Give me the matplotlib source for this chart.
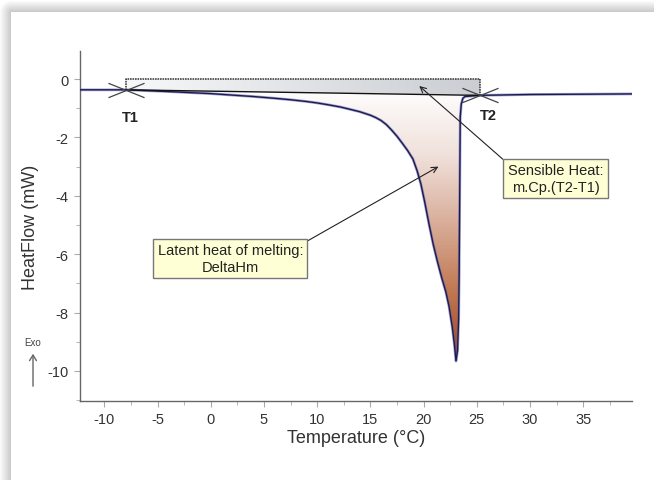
import numpy as np
import matplotlib
matplotlib.use("Agg")
import matplotlib.pyplot as plt
from matplotlib.colors import LinearSegmentedColormap
from matplotlib.path import Path
from matplotlib.patches import Polygon, FancyArrowPatch

plt.rcParams['font.family'] = ['Liberation Sans', 'DejaVu Sans']
plt.rcParams['axes.unicode_minus'] = False

# DSC curve
temperature = [-12.3, -8.0, -4.0, 0.0, 2.0, 4.0, 6.0, 7.5, 9.0, 10.0, 11.0, 12.2, 13.0, 14.0, 15.0,
               15.5, 16.0, 16.5, 17.0, 17.5, 18.0, 18.5, 19.0, 19.4, 19.75, 20.1, 20.5,
               20.9, 21.3, 21.7, 22.1, 22.4, 22.7, 22.9, 23.05, 23.2, 23.3,
               23.35, 23.4, 23.45, 23.55, 23.7, 23.9, 25.3, 30.0, 35.0, 39.6]
heatflow = [-0.37, -0.37, -0.43, -0.5, -0.55, -0.6, -0.66, -0.71, -0.77, -0.82, -0.88, -0.96, -1.03, -1.12, -1.24,
            -1.32, -1.42, -1.56, -1.75, -1.96, -2.2, -2.45, -2.74, -3.15, -3.6, -4.2, -4.95,
            -5.65, -6.25, -6.8, -7.3, -7.8, -8.5, -9.1, -9.66, -9.3, -8.2,
            -6.7, -4.0, -1.3, -0.85, -0.66, -0.6, -0.56, -0.53, -0.52, -0.51]

t1 = (-8.0, -0.37)
t2 = (25.3, -0.56)
rect_top = 0.0

xticks = [-10, -5, 0, 5, 10, 15, 20, 25, 30, 35]
yticks = [0, -2, -4, -6, -8, -10]

fig = plt.figure(figsize=(6.54, 4.81), dpi=100)

# card background with soft shadow on top/left
bg = fig.add_axes([0, 0, 1, 1])
H, W = 481, 654
yy, xx = np.mgrid[0:H, 0:W]
cx, cy = 11, 13
dx = np.clip(cx - xx, 0, None)
dy = np.clip(cy - yy, 0, None)
d = np.sqrt(dx ** 2 + dy ** 2)
shade = np.where(d > 0, 1 - 0.22 * np.clip(1 - d / 12, 0, 1), 1.0)
bg.imshow(np.dstack([shade] * 3), extent=[0, W, H, 0], aspect='auto')
bg.set_xlim(0, W)
bg.set_ylim(H, 0)
bg.axis('off')

ax = fig.add_axes([0.1223, 0.1642, 0.8441, 0.7277])
ax.patch.set_alpha(0)

x = np.array(temperature)
y = np.array(heatflow)

# area between curve and baseline (latent heat), vertical gradient
mask = (x >= t1[0]) & (x <= t2[0])
xs = x[mask]
ys = y[mask]
base = np.interp(xs, [t1[0], t2[0]], [t1[1], t2[1]])
poly = np.vstack([np.column_stack([xs, ys]), np.column_stack([xs[::-1], base[::-1]])])
clip = Polygon(poly, closed=True, facecolor='none', edgecolor='none')
ax.add_patch(clip)
cmap = LinearSegmentedColormap.from_list('melt', ['#ffffff', '#f0e0da', '#d8ac98', '#bf774f', '#a2421a'])
grad = np.linspace(0, 1, 256).reshape(-1, 1)
im = ax.imshow(grad, cmap=cmap, extent=[t1[0], t2[0], -9.7, -0.3], origin='upper',
               aspect='auto', zorder=1)
im.set_clip_path(clip)

# sensible heat rectangle, horizontal gradient
rect = Polygon([[t1[0], t1[1]], [t1[0], rect_top], [t2[0], rect_top], [t2[0], t2[1]]],
               closed=True, facecolor='none', edgecolor='none')
ax.add_patch(rect)
cmap2 = LinearSegmentedColormap.from_list('sens', ['#f7f8f9', '#cacdd2'])
im2 = ax.imshow(np.linspace(0, 1, 256).reshape(1, -1), cmap=cmap2,
                extent=[t1[0], t2[0], t2[1], rect_top], aspect='auto', zorder=1)
im2.set_clip_path(rect)
ax.plot([t1[0], t1[0], t2[0], t2[0]], [t1[1], rect_top, rect_top, t2[1]],
        color='#444444', lw=1.2, ls=(0, (1, 0.5)), zorder=2)

# curve and baseline
ax.plot(x, y, color='#5a5ab4', lw=2.0, alpha=0.55, zorder=3)
ax.plot(x, y, color='#1c1c4c', lw=1.0, zorder=4)
ax.plot([t1[0], t2[0]], [t1[1], t2[1]], color='#111111', lw=1.0, zorder=4)

# T1 / T2 markers
xmark = Path([(-1, -0.4), (1, 0.4), (-1, 0.4), (1, -0.4)],
             [Path.MOVETO, Path.LINETO, Path.MOVETO, Path.LINETO])
ax.plot([t1[0], t2[0]], [t1[1], t2[1]], ls='none', marker=xmark, markersize=26,
        markeredgecolor='#444444', markeredgewidth=0.9, zorder=5)
ax.text(-7.6, -1.3, 'T1', fontsize=10.5, fontweight='bold', ha='center', va='center', color='#222222')
ax.text(26.1, -1.23, 'T2', fontsize=10.5, fontweight='bold', ha='center', va='center', color='#222222')

box = dict(boxstyle='square,pad=0.3', facecolor='#ffffd6', edgecolor='#777777', lw=1.0)
ax.annotate('Sensible Heat:\nm.Cp.(T2-T1)', xy=(19.6, -0.24), xytext=(32.4, -3.41),
            ha='center', va='center', fontsize=10.5, color='#222222', bbox=box,
            arrowprops=dict(arrowstyle='->', color='#222222', lw=0.8, relpos=(0, 1),
                            shrinkA=0, shrinkB=0), zorder=6)
ax.annotate('Latent heat of melting:\nDeltaHm', xy=(21.4, -3.0), xytext=(1.83, -6.15),
            ha='center', va='center', fontsize=10.5, color='#222222', bbox=box,
            arrowprops=dict(arrowstyle='->', color='#222222', lw=0.8, relpos=(1, 1),
                            shrinkA=0, shrinkB=0), zorder=6)

ax.set_xlim(-12.3, 39.6)
ax.set_ylim(-11.03, 0.96)
ax.set_xticks(xticks)
ax.set_yticks(yticks)
ax.set_xticks(np.arange(-10, 40, 2.5), minor=True)
ax.set_yticks(np.arange(-11, 1, 1), minor=True)
ax.tick_params(which='major', length=4, color='#aaaaaa', labelsize=10.5, labelcolor='#333333', pad=4)
ax.tick_params(which='minor', length=3, color='#aaaaaa')
for s in ['top', 'right']:
    ax.spines[s].set_visible(False)
for s in ['left', 'bottom']:
    ax.spines[s].set_color('#666666')
    ax.spines[s].set_linewidth(1.0)
ax.set_xlabel('Temperature (°C)', fontsize=13, color='#333333', labelpad=2)
ax.set_ylabel('HeatFlow (mW)', fontsize=13, color='#333333', labelpad=6)

# Exo arrow
fig.text(33 / 654, 1 - 343 / 481, 'Exo', fontsize=7, ha='center', va='center', color='#444444')
fig.add_artist(FancyArrowPatch((33 / 654, 1 - 390 / 481), (33 / 654, 1 - 352 / 481),
                               transform=fig.transFigure, arrowstyle='->,head_length=4,head_width=2.5',
                               color='#666666', lw=1.0))

fig.savefig('out.png', dpi=100)
